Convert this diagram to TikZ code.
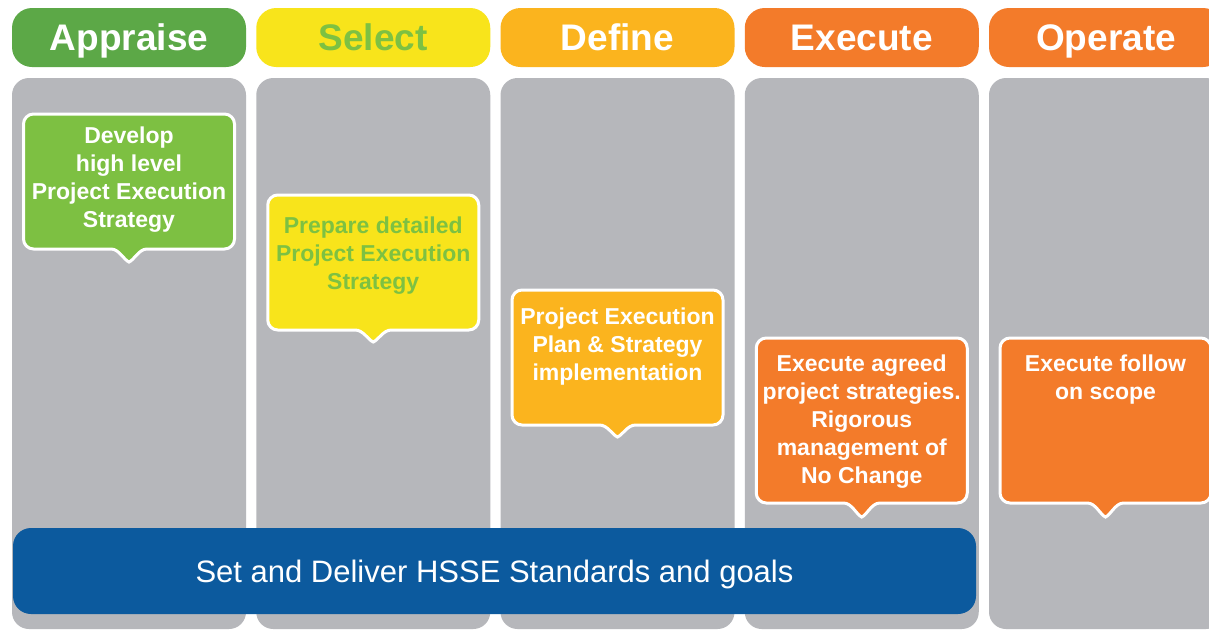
\documentclass[tikz,border=0pt]{standalone}
\usepackage{fontspec}
\setmainfont{Liberation Sans}

\definecolor{appraiseHead}{RGB}{92,168,71}
\definecolor{appraiseBox}{RGB}{125,192,66}
\definecolor{selectYellow}{RGB}{248,228,27}
\definecolor{selectText}{RGB}{125,193,66}
\definecolor{defineAmber}{RGB}{251,180,30}
\definecolor{executeOrange}{RGB}{243,123,42}
\definecolor{colGray}{RGB}{182,183,187}
\definecolor{hsseBlue}{RGB}{12,90,158}

% speech-bubble panel: fill, left, top, right, bottom, tip depth
\newcommand\bubble[6]{%
  \pgfmathsetmacro\cxm{(#2+#4)/2}%
  \draw[bubbleframe, fill=#1]
    (#2+10,#3) -- (#4-10,#3)
    .. controls (#4-4.5,#3) and (#4,#3+4.5) .. (#4,#3+10)
    -- (#4,#5-10)
    .. controls (#4,#5-4.5) and (#4-4.5,#5) .. (#4-10,#5)
    -- (\cxm+18,#5)
    .. controls (\cxm+10,#5) and (\cxm+5,#6-2) .. (\cxm,#6)
    .. controls (\cxm-5,#6-2) and (\cxm-10,#5) .. (\cxm-18,#5)
    -- (#2+10,#5)
    .. controls (#2+4.5,#5) and (#2,#5-4.5) .. (#2,#5-10)
    -- (#2,#3+10)
    .. controls (#2,#3+4.5) and (#2+4.5,#3) .. (#2+10,#3)
    -- cycle;%
}

\begin{document}
\begin{tikzpicture}[x=1pt,y=-1pt,
  header/.style={rectangle, rounded corners=20pt, minimum width=234pt,
    minimum height=59pt, inner sep=0pt, text=white,
    text height=26.5pt, text depth=0pt,
    font=\fontsize{37}{40}\selectfont\bfseries},
  column/.style={fill=colGray, rounded corners=17pt},
  bubbleframe/.style={draw=white, line width=3pt},
  calltext/.style={anchor=north, align=center, inner sep=0pt, text=white,
    font=\fontsize{23}{28}\selectfont\bfseries},
  band/.style={rectangle, rounded corners=18pt, fill=hsseBlue, text=white,
    minimum width=963pt, minimum height=86pt, inner sep=0pt,
    text height=22pt, text depth=0pt,
    font=\fontsize{31}{34}\selectfont}
]
\useasboundingbox (0,0) rectangle (1209,630);
\fill[white] (0,0) rectangle (1209,630);
\clip (0,0) rectangle (1209,630);

% phase columns
\fill[column] (12,78) rectangle (246,629);
\fill[column] (256.25,78) rectangle (490.25,629);
\fill[column] (500.5,78) rectangle (734.5,629);
\fill[column] (744.75,78) rectangle (978.75,629);
\fill[column] (989,78) rectangle (1223,629);

% phase headers
\node[header, fill=appraiseHead] (hAppraise) at (129,37.5) {Appraise};
\node[header, fill=selectYellow, text=selectText] (hSelect) at (373.25,37.5) {Select};
\node[header, fill=defineAmber] (hDefine) at (617.5,37.5) {Define};
\node[header, fill=executeOrange] (hExecute) at (861.75,37.5) {Execute};
\node[header, fill=executeOrange] (hOperate) at (1106,37.5) {Operate};

% activity bubbles
\bubble{appraiseBox}{23.5}{114}{234.5}{249}{262}
\node[calltext] (tAppraise) at (129,126.7)
  {Develop\\high level\\Project Execution\\Strategy};

\bubble{selectYellow}{267.75}{195}{478.75}{330}{342}
\node[calltext, text=selectText] (tSelect) at (373.25,216.7)
  {Prepare detailed\\Project Execution\\Strategy};

\bubble{defineAmber}{512}{290}{723}{425}{437}
\node[calltext] (tDefine) at (617.5,307.7)
  {Project Execution\\Plan \& Strategy\\implementation};

\bubble{executeOrange}{756.25}{338}{967.25}{503}{517}
\node[calltext] (tExecute) at (861.75,354.7)
  {Execute agreed\\project strategies.\\Rigorous\\management of\\No Change};

\bubble{executeOrange}{1000}{338}{1211}{503}{517}
\node[calltext] (tOperate) at (1105.5,354.7)
  {Execute follow\\on scope};

% HSSE band across the first four phases
\node[band] (hsse) at (494.5,571) {Set and Deliver HSSE Standards and goals};
\end{tikzpicture}
\end{document}
